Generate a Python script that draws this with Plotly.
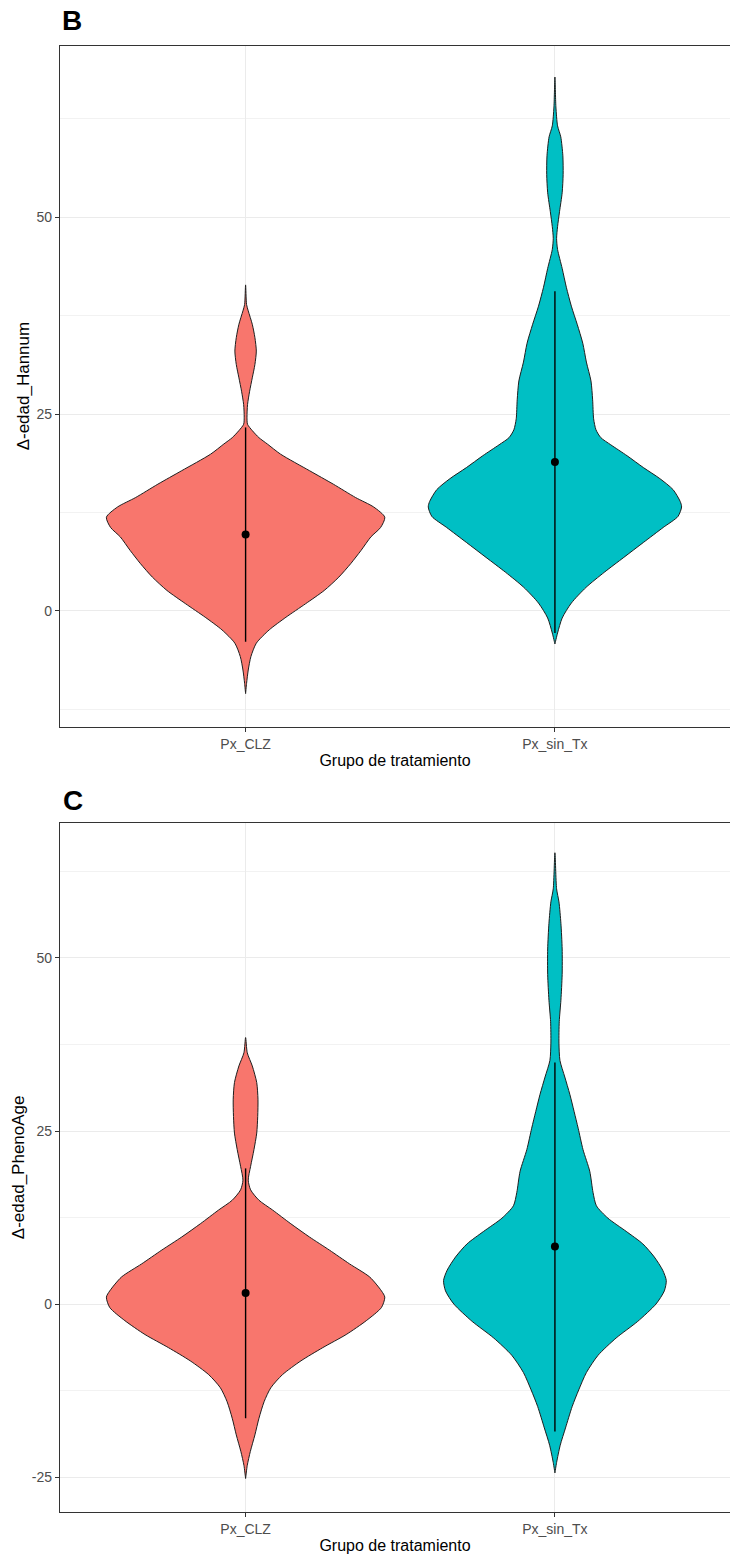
import plotly.graph_objects as go

# ---------------- data ----------------
grupos = ["Px_CLZ", "Px_sin_Tx"]
colores = ["#F8766D", "#00BFC4"]

# Panel B: Δ-edad_Hannum  (violin profile: value, relative density)
b_clz_y = [41.4, 38.9, 38.1, 36.4, 34.7, 33.0, 31.3, 29.6, 27.9, 26.2, 24.6, 23.7, 22.9, 22.0, 21.2,
           19.9, 17.8, 16.1, 14.4, 13.2, 11.9, 10.6, 9.4, 7.7, 6.0, 4.3, 2.6, 0.9, -0.8, -2.4, -4.1,
           -5.8, -7.5, -9.2, -10.5]
b_clz_d = [0, .007, .019, .048, .067, .077, .067, .048, .029, .014, .010, .014, .048, .096, .156,
           .252, .460, .630, .790, .920, 1.0, .970, .900, .830, .755, .670, .565, .430, .290, .170, .077,
           .038, .019, .007, 0]
b_sin_y = [67.8, 64.0, 61.6, 60.2, 57.8, 55.4, 53.1, 50.7, 48.8, 47.3, 45.9, 43.5, 41.1, 38.7, 36.4,
           34.0, 31.6, 29.2, 26.8, 24.4, 23.0, 22.0, 21.1, 19.7, 18.2, 16.8, 15.4, 13.9, 13.2, 12.0,
           10.6, 8.7, 6.8, 4.9, 3.0, 1.0, -0.9, -2.8, -4.2]
b_sin_d = [0, .007, .019, .042, .057, .059, .052, .033, .019, .012, .019, .052, .082, .118, .160,
           .200, .226, .259, .271, .278, .295, .330, .401, .519, .636, .754, .849, .900, .910, .884,
           .778, .636, .495, .354, .224, .118, .052, .019, 0]
b_media = [9.7, 18.9]
b_inf = [-3.9, -2.8]
b_sup = [23.3, 40.6]

# Panel C: Δ-edad_PhenoAge
c_clz_y = [38.5, 36.3, 34.4, 32.0, 29.6, 27.1, 24.7, 22.3, 19.9, 17.9, 16.5, 15.0, 13.6, 11.6, 9.7,
           7.8, 5.8, 3.9, 1.9, 1.0, -0.5, -2.4, -4.4, -6.3, -8.2, -10.2, -12.1, -14.1, -16.5, -18.9,
           -21.3, -23.3, -25.2]
c_clz_d = [0, .012, .048, .080, .089, .087, .080, .060, .036, .019, .036, .096, .193, .325, .458,
           .602, .747, .892, .976, 1.0, .976, .867, .723, .554, .398, .265, .181, .133, .096, .067,
           .034, .012, 0]
c_sin_y = [65.2, 60.0, 58.1, 55.0, 51.3, 47.6, 43.9, 40.8, 37.7, 35.2, 32.8, 30.3, 27.8, 25.4, 22.3,
           19.2, 16.1, 14.2, 12.4, 10.5, 8.7, 6.8, 4.9, 3.4, 1.9, 0.0, -2.5, -4.9, -7.4, -9.9, -12.4,
           -14.8, -17.9, -20.4, -22.9, -24.4]
c_sin_d = [0, .012, .029, .043, .052, .052, .043, .031, .029, .036, .071, .107, .138, .167, .202,
           .250, .274, .298, .381, .512, .631, .714, .774, .800, .786, .726, .595, .440, .310, .226,
           .171, .124, .076, .038, .012, 0]
c_media = [1.6, 8.3]
c_inf = [-16.5, -18.4]
c_sup = [19.6, 34.9]

y_ticks = [0, 25, 50]
c_y_ticks = [-25, 0, 25, 50]

# ---------------- figure ----------------
W, H = 730, 1559
FONT = "Liberation Sans, Arial, sans-serif"
HALF = 0.45

fig = go.Figure()


def violin(xc, ys, dens, color, xa, ya):
    xs = [xc + HALF * d for d in dens] + [xc - HALF * d for d in reversed(dens)]
    yy = list(ys) + list(reversed(ys))
    fig.add_trace(go.Scatter(x=xs, y=yy, mode="lines", fill="toself", fillcolor=color,
                             line=dict(color="#1e1e1e", width=1.0, shape="spline", smoothing=0.7),
                             xaxis=xa, yaxis=ya, hoverinfo="skip", showlegend=False))


def pointrange(medias, infs, sups, xa, ya):
    for i, (m, lo, hi) in enumerate(zip(medias, infs, sups)):
        xc = i + 1
        fig.add_trace(go.Scatter(x=[xc, xc], y=[lo, hi], mode="lines",
                                 line=dict(color="black", width=1.4), xaxis=xa, yaxis=ya,
                                 hoverinfo="skip", showlegend=False))
        fig.add_trace(go.Scatter(x=[xc], y=[m], mode="markers",
                                 marker=dict(color="black", size=8, symbol="circle"),
                                 xaxis=xa, yaxis=ya, showlegend=False))


violin(1, b_clz_y, b_clz_d, colores[0], "x", "y")
violin(2, b_sin_y, b_sin_d, colores[1], "x", "y")
pointrange(b_media, b_inf, b_sup, "x", "y")

violin(1, c_clz_y, c_clz_d, colores[0], "x2", "y2")
violin(2, c_sin_y, c_sin_d, colores[1], "x2", "y2")
pointrange(c_media, c_inf, c_sup, "x2", "y2")


def px_y(top, bottom):
    return [1 - bottom / H, 1 - top / H]


xdom = [60 / W, 1.0]
common_x = dict(range=[0.4, 2.566], tickvals=[1, 2], ticktext=grupos, showgrid=True,
                gridcolor="#EBEBEB", gridwidth=1, zeroline=False, showline=True,
                linecolor="#333333", linewidth=1.3, mirror=True, ticks="outside", ticklen=4,
                tickcolor="#333333", tickfont=dict(family=FONT, size=14, color="#4D4D4D"),
                domain=xdom)
common_y = dict(showgrid=True, gridcolor="#EBEBEB", gridwidth=1, zeroline=False, showline=True,
                linecolor="#333333", linewidth=1.3, mirror=False, ticks="outside", ticklen=4,
                tickcolor="#333333", tickfont=dict(family=FONT, size=14, color="#4D4D4D"))

fig.update_layout(
    width=W, height=H, margin=dict(l=0, r=0, t=0, b=0),
    paper_bgcolor="white", plot_bgcolor="white", showlegend=False,
    font=dict(family=FONT),
    xaxis=dict(**common_x, anchor="y",
               title=dict(text="Grupo de tratamiento", font=dict(family=FONT, size=16, color="black"),
                          standoff=4)),
    yaxis=dict(**common_y, anchor="x", domain=px_y(45.5, 726.7), range=[-14.7, 71.8],
               tickvals=y_ticks, ticktext=[str(v) for v in y_ticks],
               minor=dict(tickvals=[-12.5, 12.5, 37.5, 62.5], showgrid=True, gridcolor="#F2F2F2",
                          gridwidth=0.6, ticks=""),
               title=dict(text="Δ-edad_Hannum", font=dict(family=FONT, size=17, color="black"),
                          standoff=2)),
    xaxis2=dict(**common_x, anchor="y2",
                title=dict(text="Grupo de tratamiento", font=dict(family=FONT, size=16, color="black"),
                           standoff=4)),
    yaxis2=dict(**common_y, anchor="x2", domain=px_y(823, 1511.7), range=[-30.0, 69.5],
                tickvals=c_y_ticks, ticktext=[str(v) for v in c_y_ticks],
                minor=dict(tickvals=[-12.5, 12.5, 37.5, 62.5], showgrid=True, gridcolor="#F2F2F2",
                           gridwidth=0.6, ticks=""),
                title=dict(text="Δ-edad_PhenoAge", font=dict(family=FONT, size=17, color="black"),
                           standoff=2)),
    annotations=[
        dict(text="<b>B</b>", x=60 / W, y=1 - 21 / H, xref="paper", yref="paper",
             xanchor="left", yanchor="middle", showarrow=False,
             font=dict(family=FONT, size=28, color="black")),
        dict(text="<b>C</b>", x=61 / W, y=1 - 800 / H, xref="paper", yref="paper",
             xanchor="left", yanchor="middle", showarrow=False,
             font=dict(family=FONT, size=28, color="black")),
    ],
)

fig.write_html("out.html")
